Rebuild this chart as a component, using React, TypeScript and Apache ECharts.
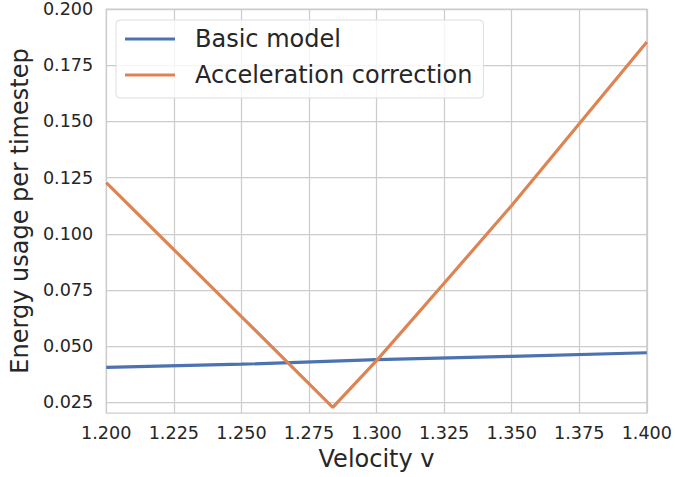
import React, { useEffect, useRef } from "react";
import * as echarts from "echarts";

const basicX = [1.2, 1.25, 1.3, 1.35, 1.4];
const basicY = [0.0406, 0.042, 0.0440, 0.0455, 0.0471];
const accelX = [1.2, 1.225, 1.25, 1.2838, 1.3, 1.325, 1.35, 1.375, 1.4];
const accelY = [0.1228, 0.0930, 0.0632, 0.0228, 0.0436, 0.0780, 0.1126, 0.1490, 0.1853];
const yTicks = [0.025, 0.05, 0.075, 0.1, 0.125, 0.15, 0.175, 0.2];
const seriesNames = ["Basic model", "Acceleration correction"];

const FONT = "DejaVu Sans";
const TXT = "#262626";
const GRID = "#cccccc";

export default function App() {
  const ref = useRef<HTMLDivElement>(null);
  useEffect(() => {
    if (!ref.current) return;
    const chart = echarts.init(ref.current, undefined, { renderer: "svg" });
    chart.setOption({
      animation: false,
      backgroundColor: "#ffffff",
      grid: {
        left: 104,
        right: 27,
        top: 7,
        bottom: 64,
        show: true,
        borderColor: GRID,
        borderWidth: 1.25,
        backgroundColor: "#ffffff",
      },
      legend: {
        orient: "vertical",
        left: 116,
        top: 20,
        padding: [7, 11, 11, 9],
        itemGap: 12,
        itemWidth: 50,
        itemHeight: 3,
        icon: "rect",
        backgroundColor: "rgba(255,255,255,0.8)",
        borderColor: "#dddddd",
        borderWidth: 1,
        borderRadius: 4,
        textStyle: {
          fontFamily: FONT,
          fontSize: 24,
          color: TXT,
          lineHeight: 24,
          padding: [0, 0, 0, 15],
        },
        data: seriesNames,
      },
      xAxis: {
        type: "value",
        min: 1.2,
        max: 1.4,
        interval: 0.025,
        name: "Velocity v",
        nameLocation: "middle",
        nameGap: 33,
        nameTextStyle: { fontFamily: FONT, fontSize: 24, color: TXT },
        axisLine: { show: false },
        axisTick: { show: false },
        axisLabel: {
          fontFamily: FONT,
          fontSize: 17.6,
          color: TXT,
          margin: 11,
          formatter: (v: number) => v.toFixed(3),
        },
        splitLine: { show: true, lineStyle: { color: GRID, width: 1.25 } },
      },
      yAxis: {
        type: "value",
        min: 0.0203,
        max: 0.2,
        name: "Energy usage per timestep",
        nameLocation: "middle",
        nameGap: 69,
        nameTextStyle: { fontFamily: FONT, fontSize: 24, color: TXT },
        axisLine: { show: false },
        axisTick: { show: false, customValues: yTicks },
        axisLabel: {
          fontFamily: FONT,
          fontSize: 17.6,
          color: TXT,
          margin: 13,
          customValues: yTicks,
          formatter: (v: number) => v.toFixed(3),
        },
        splitLine: { show: true, lineStyle: { color: GRID, width: 1.25 } },
      },
      series: [
        {
          name: seriesNames[0],
          type: "line",
          data: basicX.map((x, i) => [x, basicY[i]]),
          showSymbol: false,
          symbol: "none",
          lineStyle: { color: "#4c72b0", width: 3.2 },
          itemStyle: { color: "#4c72b0" },
        },
        {
          name: seriesNames[1],
          type: "line",
          data: accelX.map((x, i) => [x, accelY[i]]),
          showSymbol: false,
          symbol: "none",
          lineStyle: { color: "#dd8452", width: 3.2 },
          itemStyle: { color: "#dd8452" },
        },
      ],
    });
    return () => chart.dispose();
  }, []);
  return (
    <div
      ref={ref}
      style={{ position: "fixed", left: 0, top: 0, width: 675, height: 477 }}
    />
  );
}
